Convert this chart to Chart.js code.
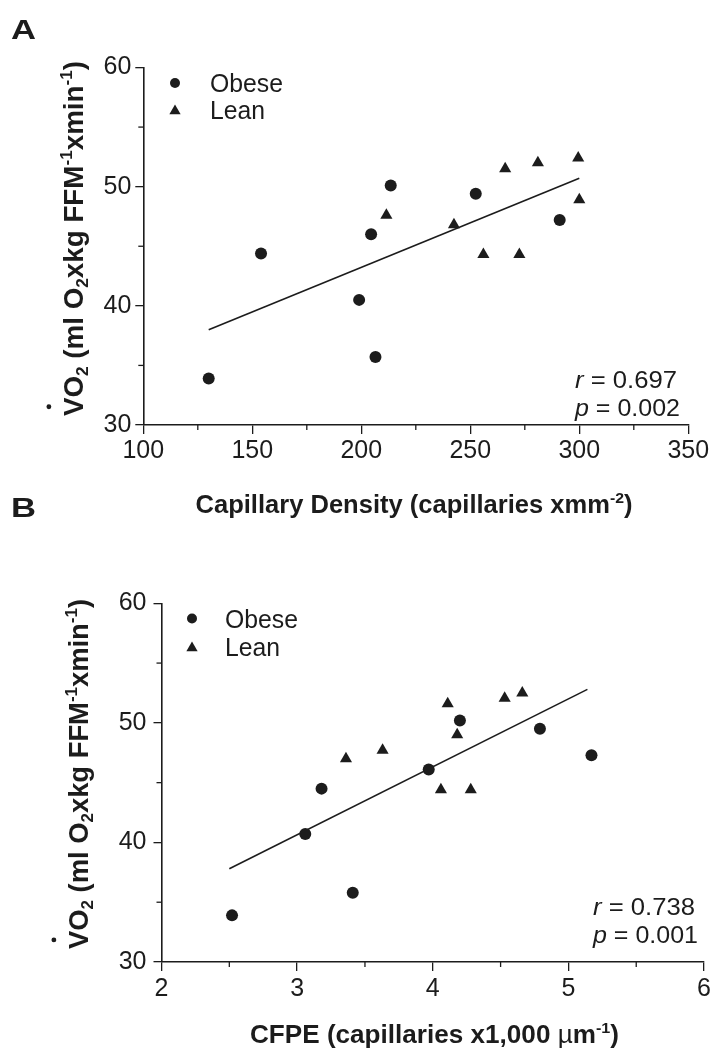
<!DOCTYPE html>
<html>
<head>
<meta charset="utf-8">
<script src="https://cdn.jsdelivr.net/npm/chart.js@4.4.1/dist/chart.umd.min.js"></script>
<style>
  html, body { margin: 0; padding: 0; background: #fff; }
  .panel { position: absolute; left: 0; width: 714px; height: 529px; }
</style>
</head>
<body>
<div class="panel" style="top:0"><canvas id="chartA"></canvas></div>
<div class="panel" style="top:529px"><canvas id="chartB"></canvas></div>
<script>
// Panel A: capillary density
const obeseA_x = [130, 154, 199, 206.5, 204.5, 213.5, 252.5, 291];
const obeseA_y = [33.9, 44.4, 40.5, 35.7, 46.0, 50.1, 49.4, 47.2];
const leanA_x = [211.5, 242.5, 256, 272.5, 266, 281, 299.5, 300];
const leanA_y = [47.6, 46.8, 44.3, 44.3, 51.5, 52.0, 52.4, 48.9];
const fitA_x = [130, 300];
const fitA_y = [38.0, 50.7];

// Panel B: CFPE
const obeseB_x = [2.52, 3.06, 3.18, 3.41, 3.97, 4.20, 4.79, 5.17];
const obeseB_y = [33.9, 40.7, 44.5, 35.8, 46.1, 50.2, 49.5, 47.3];
const leanB_x = [3.36, 3.63, 4.11, 4.18, 4.06, 4.28, 4.53, 4.66];
const leanB_y = [47.0, 47.7, 51.6, 49.0, 44.4, 44.4, 52.05, 52.5];
const fitB_x = [2.50, 5.14];
const fitB_y = [37.8, 52.8];

// minor tick positions
const minorXA = [125, 175, 225, 275, 325];
const minorXB = [2.5, 3.5, 4.5, 5.5];
const minorY = [35, 45, 55];

const INK = '#1c1c1c';
const FONT = '"Liberation Sans", Arial, Helvetica, sans-serif';

function pts(xs, ys) {
  return xs.map((x, i) => ({ x: x, y: ys[i] }));
}

function setFont(ctx, seg, size, weight) {
  const fs = seg.s ? size * 0.62 : size;
  const st = seg.i ? 'italic ' : '';
  ctx.font = st + (seg.w || weight) + ' ' + fs + 'px ' + FONT;
}

function richWidth(ctx, segs, size, weight) {
  let w = 0;
  segs.forEach(seg => { setFont(ctx, seg, size, weight); w += ctx.measureText(seg.t).width; });
  return w;
}

// draws a run of text with sub/superscripts; (x, y) is the baseline anchor
function drawRich(ctx, segs, x, y, t) {
  ctx.save();
  ctx.translate(x, y);
  if (t.rot) ctx.rotate(t.rot);
  const w = richWidth(ctx, segs, t.size, t.weight);
  const k = t.width ? t.width / w : 1;
  ctx.scale(k, t.cross || 1);
  let cx = t.align === 'center' ? -w / 2 : 0;
  const startX = cx;
  ctx.fillStyle = INK;
  ctx.textBaseline = 'alphabetic';
  ctx.textAlign = 'left';
  segs.forEach(seg => {
    setFont(ctx, seg, t.size, t.weight);
    const dy = seg.s === 'sup' ? -t.size * 0.42 : seg.s === 'sub' ? t.size * 0.2 : 0;
    ctx.fillText(seg.t, cx, dy);
    cx += ctx.measureText(seg.t).width;
  });
  if (t.dot) {
    setFont(ctx, segs[0], t.size, t.weight);
    const vw = ctx.measureText('V').width;
    ctx.beginPath();
    ctx.arc(startX + vw / 2, -t.size * 1.25, 2.3, 0, Math.PI * 2);
    ctx.fill();
  }
  ctx.restore();
}

function marker(ctx, style, x, y, r) {
  ctx.beginPath();
  if (style === 'circle') {
    ctx.arc(x, y, r, 0, Math.PI * 2);
  } else {
    ctx.moveTo(x, y - r);
    ctx.lineTo(x + r * 0.866, y + r * 0.5);
    ctx.lineTo(x - r * 0.866, y + r * 0.5);
    ctx.closePath();
  }
  ctx.fill();
}

const yTitle = [
  { t: 'VO' }, { t: '2', s: 'sub' }, { t: ' (ml O' }, { t: '2', s: 'sub' },
  { t: 'xkg FFM' }, { t: '-1', s: 'sup' }, { t: 'xmin' }, { t: '-1', s: 'sup' }, { t: ')' }
];

const decor = {
  id: 'decor',
  afterDraw(chart, args, o) {
    const ctx = chart.ctx;
    const xs = chart.scales.x, ys = chart.scales.y;
    ctx.save();
    // minor ticks
    ctx.strokeStyle = INK;
    ctx.lineWidth = 1.3;
    o.minorX.forEach(v => {
      const px = xs.getPixelForValue(v);
      ctx.beginPath(); ctx.moveTo(px, xs.top); ctx.lineTo(px, xs.top + 5); ctx.stroke();
    });
    o.minorY.forEach(v => {
      const py = ys.getPixelForValue(v);
      ctx.beginPath(); ctx.moveTo(ys.right, py); ctx.lineTo(ys.right - 5, py); ctx.stroke();
    });
    // legend
    ctx.fillStyle = INK;
    marker(ctx, 'circle', o.leg.x, o.leg.y1, 5);
    marker(ctx, 'triangle', o.leg.x, o.leg.y2 + 1, 6.5);
    drawRich(ctx, [{ t: 'Obese' }], o.leg.tx, o.leg.y1 + 9, { size: 25, weight: 'normal', width: 73 });
    drawRich(ctx, [{ t: 'Lean' }], o.leg.tx, o.leg.y2 + 9, { size: 25, weight: 'normal', width: 55 });
    // statistics
    drawRich(ctx, [{ t: 'r', i: true }, { t: ' = ' + o.r }], o.stat.x, o.stat.y1, { size: 24, weight: 'normal', width: 102 });
    drawRich(ctx, [{ t: 'p', i: true }, { t: ' = ' + o.p }], o.stat.x, o.stat.y2, { size: 24, weight: 'normal', width: 105 });
    // axis titles
    drawRich(ctx, o.xTitle, o.xt.x, o.xt.y, { size: 25, weight: 'bold', align: 'center', width: o.xt.w });
    drawRich(ctx, yTitle, o.yt.x, o.yt.y, { size: 26, weight: 'bold', align: 'center', width: o.yt.w, rot: -Math.PI / 2, cross: 1.05, dot: true });
    // panel letters
    o.letters.forEach(L => {
      drawRich(ctx, [{ t: L.t }], 11, L.y, { size: 28, weight: 'bold', width: 25 });
    });
    ctx.restore();
  }
};

function makeChart(id, c) {
  return new Chart(document.getElementById(id), {
    type: 'scatter',
    data: {
      datasets: [
        { label: 'Obese', data: pts(c.ox, c.oy), pointStyle: 'circle', pointRadius: 6,
          backgroundColor: INK, borderColor: INK, borderWidth: 0 },
        { label: 'Lean', data: pts(c.lx, c.ly), pointStyle: 'triangle', pointRadius: 7,
          backgroundColor: INK, borderColor: INK, borderWidth: 0 },
        { label: 'fit', data: pts(c.fx, c.fy), showLine: true, pointRadius: 0,
          borderColor: INK, borderWidth: 1.6, fill: false }
      ]
    },
    options: {
      responsive: true,
      maintainAspectRatio: false,
      animation: false,
      events: [],
      layout: { padding: c.pad },
      plugins: { legend: { display: false }, tooltip: { enabled: false }, decor: c.decor },
      scales: {
        x: {
          type: 'linear', min: c.xmin, max: c.xmax,
          ticks: { stepSize: c.xstep, padding: c.xpad, color: INK, font: { family: FONT, size: 25 } },
          grid: { drawOnChartArea: false, tickLength: 9, color: INK, lineWidth: 1.3 },
          border: { color: INK, width: 1.6 },
          afterFit: s => { s.height = c.xh; }
        },
        y: {
          min: 30, max: 60,
          ticks: { stepSize: 10, padding: c.ypad, color: INK, font: { family: FONT, size: 25 } },
          grid: { drawOnChartArea: false, tickLength: 8, color: INK, lineWidth: 1.3 },
          border: { color: INK, width: 1.6 },
          afterFit: s => { s.width = c.yw; }
        }
      }
    },
    plugins: [decor]
  });
}

makeChart('chartA', {
  ox: obeseA_x, oy: obeseA_y, lx: leanA_x, ly: leanA_y, fx: fitA_x, fy: fitA_y,
  xmin: 100, xmax: 350, xstep: 50, xpad: 2, ypad: 4,
  yw: 143.3, xh: 104, pad: { left: 0, right: 25.7, top: 67.5, bottom: 0 },
  decor: {
    minorX: minorXA, minorY: minorY,
    leg: { x: 175, y1: 83, y2: 110, tx: 210 },
    stat: { x: 575, y1: 388, y2: 416 }, r: '0.697', p: '0.002',
    xTitle: [{ t: 'Capillary Density (capillaries xmm' }, { t: '-2', s: 'sup' }, { t: ')' }],
    xt: { x: 414, y: 513, w: 437 },
    yt: { x: 83, y: 238.5, w: 355 },
    letters: [{ t: 'A', y: 39 }, { t: 'B', y: 517 }]
  }
});

makeChart('chartB', {
  ox: obeseB_x, oy: obeseB_y, lx: leanB_x, ly: leanB_y, fx: fitB_x, fy: fitB_y,
  xmin: 2, xmax: 6, xstep: 1, xpad: 3, ypad: 7,
  yw: 161.5, xh: 96, pad: { left: 0, right: 9, top: 74.3, bottom: 0 },
  decor: {
    minorX: minorXB, minorY: minorY,
    leg: { x: 192, y1: 89.5, y2: 118, tx: 225 },
    stat: { x: 593, y1: 386, y2: 414 }, r: '0.738', p: '0.001',
    xTitle: [{ t: 'CFPE (capillaries x1,000 ' }, { t: 'µ', w: 'normal' }, { t: 'm' }, { t: '-1', s: 'sup' }, { t: ')' }],
    xt: { x: 434.5, y: 514, w: 369 },
    yt: { x: 88, y: 245, w: 350 },
    letters: []
  }
});
</script>
</body>
</html>
